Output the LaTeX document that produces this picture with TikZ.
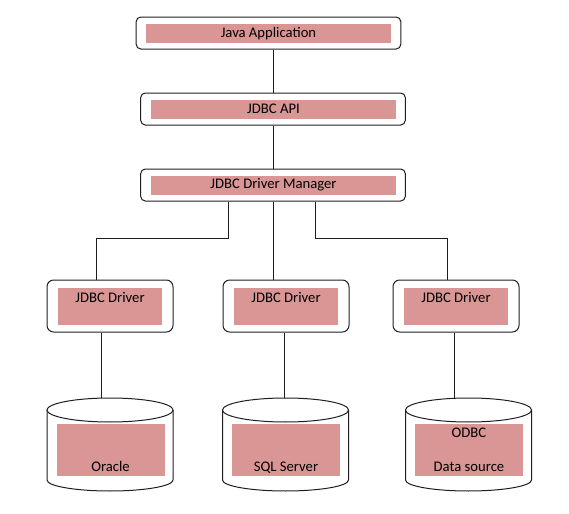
\documentclass[tikz,border=0pt]{standalone}
\usepackage{fontspec}
\setmainfont{Carlito}
\usepackage{tikz}
\usetikzlibrary{calc}
\definecolor{boxpink}{RGB}{217,150,148}
\definecolor{edgegray}{RGB}{30,30,34}

\begin{document}
\begin{tikzpicture}[x=0.75pt,y=-0.75pt,line width=0.75pt,draw=edgegray,
			font=\fontsize{11}{12}\selectfont,
			wide box/.style={draw,rounded corners=3.5pt,minimum width=198.5pt,minimum height=24pt,inner sep=0pt},
			wide pink/.style={fill=boxpink,minimum width=183.75pt,minimum height=14.25pt,inner sep=0pt,text height=8pt,text depth=2.3pt},
			driver box/.style={draw,rounded corners=5pt,minimum width=94.5pt,minimum height=39pt,inner sep=0pt},
			driver pink/.style={fill=boxpink,minimum width=78pt,minimum height=27.75pt,inner sep=0pt},
			db pink/.style={fill=boxpink,minimum width=81pt,minimum height=39pt,inner sep=0pt}]

			\useasboundingbox (0,0) rectangle (569,514);

			\node[wide box] (app) at (268.5,33) {};
			\node[wide pink] (appp) at (268.5,33.5) {Java Application};
			\node[wide box] (api) at (273,109) {};
			\node[wide pink] (apip) at (273.5,109.5) {JDBC API};
			\node[wide box] (mgr) at (273,185) {};
			\node[wide pink] (mgrp) at (273.5,185) {JDBC Driver Manager};

			\foreach \dx/\n in {110/1,286/2,456/3} {
				\node[driver box] (drv\n) at (\dx,306) {};
				\node[driver pink] (drvp\n) at (\dx,306.5) {};
				\node[anchor=base] (drvt\n) at (\dx,302) {JDBC Driver};
			}

			\foreach \cx/\lx/\n/\txt in {110/101/1/Oracle, 285.5/284/2/SQL Server, 468.5/454/3/{ODBC\\[13.5pt]Data source}} {
				\draw[fill=white] (\cx-63,410) -- (\cx-63,480) arc[start angle=180,end angle=360,x radius=47.25pt,y radius=8.25pt] -- (\cx+63,410);
				\draw[fill=white] (\cx,410) ellipse[x radius=47.25pt,y radius=9pt];
				\node[db pink] (dbp\n) at (\cx+0.5,450) {};
				\node[anchor=south,align=center,inner sep=0pt,text depth=0pt,yshift=3.75pt] (dbt\n) at (dbp\n.south) {\txt};
				\coordinate (top\n) at (\lx,398);
			}

			\coordinate (j1) at (228,238);
			\coordinate (j3) at (315,238);

			\draw (api.north |- app.south) -- (api.north);
			\draw (api.south) -- (mgr.north);
			\draw (mgr.south) -- (mgr.south |- drv2.north);
			\draw (mgr.south -| j1) -- (j1) -| ($(drv1.north)+(-14,0)$);
			\draw (mgr.south -| j3) -- (j3) -| ($(drv3.north)+(-9,0)$);
			\foreach \n in {1,2,3}
				\draw (drv\n.south -| top\n) -- (top\n);

		\end{tikzpicture}
\end{document}
